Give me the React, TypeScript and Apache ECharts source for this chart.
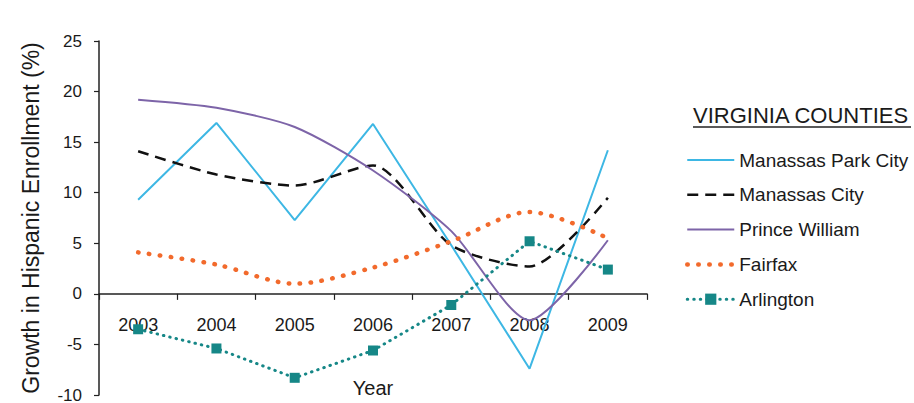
import React, { useEffect, useRef } from "react";
import * as echarts from "echarts";

const years = ["2003", "2004", "2005", "2006", "2007", "2008", "2009"];
const manassasParkCity = [9.3, 16.9, 7.3, 16.8, 4.8, -7.4, 14.2];
const manassasCity = [14.1, 11.8, 10.7, 12.7, 4.8, 2.7, 9.5];
const princeWilliam = [19.2, 18.4, 16.5, 12.2, 6.2, -2.6, 5.3];
const fairfax = [4.1, 2.9, 1.0, 2.6, 5.2, 8.1, 5.5];
const arlington = [-3.5, -5.4, -8.3, -5.6, -1.1, 5.2, 2.4];
const seriesNames = ["Manassas Park City", "Manassas City", "Prince William", "Fairfax", "Arlington"];
const yMin = -10;
const yMax = 25;

const FONT = "'Liberation Sans', Arial, sans-serif";

const styles = [
  { color: "#3db7e4", width: 2, type: "solid" as any, cap: "butt" },
  { color: "#111111", width: 2.5, type: [11, 7] as any, cap: "butt" },
  { color: "#7d64a8", width: 2, type: "solid" as any, cap: "butt" },
  { color: "#f26a2c", width: 4.5, type: [0.5, 10.5] as any, cap: "round" },
  { color: "#168787", width: 3, type: [0.5, 6] as any, cap: "round" },
];

export default function App() {
  const ref = useRef<HTMLDivElement>(null);
  useEffect(() => {
    document.body.style.margin = "0";
    const chart = echarts.init(ref.current!, null, { renderer: "svg" });
    const gridTop = 41;
    const gridBottom = 8;
    const gridHeight = 403 - gridTop - gridBottom;
    const zeroOffset = (gridHeight * (0 - yMin)) / (yMax - yMin);
    const values = [manassasParkCity, manassasCity, princeWilliam, fairfax, arlington];
    const smooths = [false, 0.25, 0.25, 0.3, false];
    chart.setOption({
      animation: false,
      backgroundColor: "#ffffff",
      textStyle: { fontFamily: FONT },
      grid: { left: 99, right: 267, top: gridTop, bottom: gridBottom, containLabel: false, outerBoundsMode: "none" },
      legend: {
        orient: "vertical",
        left: 685,
        top: 150,
        padding: 0,
        itemWidth: 47,
        itemHeight: 14,
        itemGap: 14.8,
        selectedMode: false,
        textStyle: { fontSize: 19, color: "#1a1a1a", fontFamily: FONT, lineHeight: 20 },
        data: seriesNames.map((n, i) => ({
          name: n,
          itemStyle: i < 4 ? { opacity: 0 } : { color: styles[i].color },
          lineStyle: {
            color: styles[i].color,
            width: styles[i].width,
            type: styles[i].type,
            cap: styles[i].cap,
          },
        })),
      },
      graphic: [
        {
          type: "text",
          left: 693,
          top: 104,
          style: { text: "VIRGINIA COUNTIES", fontSize: 22, fill: "#1a1a1a", fontFamily: FONT },
        },
        {
          type: "line",
          shape: { x1: 693, y1: 127, x2: 911, y2: 127 },
          style: { stroke: "#222", lineWidth: 1.5 },
        },
      ],
      xAxis: {
        type: "category",
        data: years,
        boundaryGap: true,
        position: "bottom",
        offset: -zeroOffset,
        name: "Year",
        nameLocation: "middle",
        nameGap: 84,
        nameTextStyle: { fontSize: 20, color: "#1a1a1a", fontFamily: FONT },
        axisLine: { onZero: false, lineStyle: { color: "#222", width: 1.5 } },
        axisTick: { show: true, length: 6, lineStyle: { color: "#222", width: 1.2 } },
        axisLabel: { margin: 22, fontSize: 18, color: "#1a1a1a", fontFamily: FONT },
        splitLine: { show: false },
      },
      yAxis: {
        type: "value",
        min: yMin,
        max: yMax,
        interval: 5,
        name: "Growth in Hispanic Enrollment (%)",
        nameLocation: "middle",
        nameGap: 57,
        nameTextStyle: { fontSize: 23, color: "#1a1a1a", fontFamily: FONT },
        axisLine: { show: true, onZero: false, lineStyle: { color: "#222", width: 1.5 } },
        axisTick: { show: true, length: 5, lineStyle: { color: "#222", width: 1.2 } },
        axisLabel: { margin: 17, fontSize: 17, color: "#1a1a1a", fontFamily: FONT },
        splitLine: { show: false },
      },
      series: seriesNames.map((n, i) => ({
        name: n,
        type: "line",
        data: values[i],
        symbol: i === 4 ? "rect" : "none",
        symbolSize: 10,
        smooth: smooths[i],
        color: styles[i].color,
        itemStyle: { color: styles[i].color },
        lineStyle: {
          color: styles[i].color,
          width: styles[i].width,
          type: styles[i].type,
          cap: styles[i].cap,
        },
      })),
    });
    return () => chart.dispose();
  }, []);
  return <div ref={ref} style={{ width: 914, height: 403 }} />;
}
